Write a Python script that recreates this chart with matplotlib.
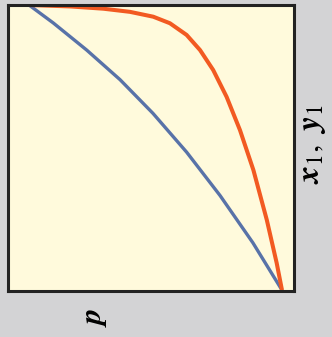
import matplotlib
matplotlib.use("Agg")
import matplotlib.pyplot as plt

plt.rcParams['mathtext.fontset'] = 'stix'

# values (x: composition, y: normalised quantity)
blue_x = [0.0, 0.096, 0.228, 0.360, 0.490, 0.623, 0.755, 0.885, 1.0]
blue_y = [1.0, 0.937, 0.842, 0.738, 0.620, 0.484, 0.332, 0.166, 0.0]

orange_x = [0.0, 0.162, 0.294, 0.399, 0.491, 0.557, 0.623, 0.676, 0.728,
            0.781, 0.834, 0.887, 0.940, 0.979, 1.0]
orange_y = [1.0, 0.995, 0.987, 0.976, 0.959, 0.936, 0.895, 0.842, 0.772,
            0.678, 0.561, 0.421, 0.246, 0.095, 0.0]

xlabel = r'$\boldsymbol{p}$'
ylabel = r'$\boldsymbol{x}_1,\ \boldsymbol{y}_1$'

W, H = 332, 337
fig = plt.figure(figsize=(W / 100, H / 100), dpi=100)
fig.patch.set_facecolor('#d3d3d5')
ax = fig.add_axes([8 / W, 1 - 291 / H, 286 / W, 286 / H])
ax.set_facecolor('#fffadc')

ax.plot(blue_x, blue_y, color='#5872a8', lw=2.4, solid_capstyle='butt',
        solid_joinstyle='round')
ax.plot(orange_x, orange_y, color='#f25a22', lw=2.9, solid_capstyle='butt',
        solid_joinstyle='round')

ax.set_xlim(-21 / 253, 1 + 12 / 253)
ax.set_ylim(-0.003, 1.0)
ax.set_xticks([])
ax.set_yticks([])
for s in ax.spines.values():
    s.set_linewidth(2.2)
    s.set_color('#222222')

fig.text(94 / W, 1 - 317 / H, xlabel, rotation=90, fontsize=22,
         ha='center', va='center')
fig.text(312 / W, 1 - 144 / H, ylabel, rotation=90, fontsize=24,
         ha='center', va='center')

fig.savefig('out.png', dpi=100, facecolor=fig.get_facecolor())
